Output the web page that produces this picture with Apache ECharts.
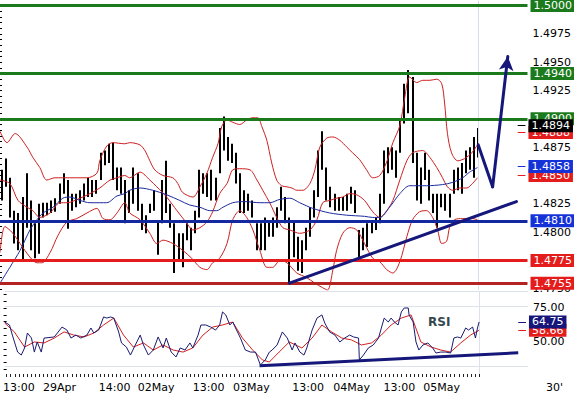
<!DOCTYPE html>
<html><head><meta charset="utf-8">
<script src="https://cdn.jsdelivr.net/npm/echarts@6/dist/echarts.min.js"></script>
<style>html,body{margin:0;padding:0;background:#fff}#c{width:574px;height:397px}</style>
</head><body><div id="c"></div>
<script>
// ---- hourly bars (index = hour) ----
const highs = [1.4855,1.4865,1.4848,1.4819,1.4817,1.4831,1.4852,1.4828,1.4808,1.4825,
1.4826,1.4826,1.4828,1.4830,1.4843,1.4852,1.4846,1.4834,1.4834,1.4837,
1.4843,1.4848,1.4846,1.4846,1.4870,1.4872,1.4878,1.4879,1.4857,1.4857,
1.4846,1.4837,1.4857,1.4852,1.4825,1.4815,1.4825,1.4837,1.4810,1.4846,
1.4863,1.4825,1.4808,1.4799,1.4799,1.4808,1.4804,1.4819,1.4855,1.4852,
1.4852,1.4855,1.4848,1.4892,1.4902,1.4884,1.4878,1.4870,1.4852,1.4837,
1.4834,1.4828,1.4808,1.4808,1.4813,1.4810,1.4813,1.4822,1.4840,1.4831,
1.4813,1.4810,1.4796,1.4793,1.4804,1.4822,1.4837,1.4872,1.4889,1.4857,
1.4840,1.4834,1.4831,1.4831,1.4834,1.4840,1.4837,1.4802,1.4804,1.4808,
1.4810,1.4813,1.4834,1.4872,1.4875,1.4875,1.4872,1.4899,1.4931,1.4943,
1.4937,1.4870,1.4857,1.4870,1.4855,1.4834,1.4834,1.4834,1.4834,1.4834,
1.4855,1.4857,1.4861,1.4872,1.4875,1.4884,1.4892];
const lows = [1.4828,1.4840,1.4813,1.4790,1.4784,1.4775,1.4804,1.4784,1.4777,1.4781,
1.4813,1.4815,1.4817,1.4818,1.4825,1.4834,1.4803,1.4819,1.4822,1.4825,
1.4828,1.4831,1.4831,1.4834,1.4846,1.4859,1.4861,1.4846,1.4837,1.4834,
1.4808,1.4817,1.4825,1.4819,1.4802,1.4799,1.4817,1.4819,1.4780,1.4808,
1.4817,1.4804,1.4764,1.4775,1.4769,1.4793,1.4784,1.4799,1.4813,1.4834,
1.4831,1.4828,1.4828,1.4852,1.4872,1.4863,1.4861,1.4843,1.4817,1.4817,
1.4819,1.4813,1.4784,1.4784,1.4784,1.4796,1.4796,1.4804,1.4819,1.4808,
1.4755,1.4778,1.4766,1.4764,1.4784,1.4796,1.4813,1.4831,1.4855,1.4828,
1.4822,1.4819,1.4819,1.4819,1.4819,1.4825,1.4817,1.4778,1.4784,1.4787,
1.4799,1.4802,1.4808,1.4825,1.4852,1.4855,1.4848,1.4870,1.4896,1.4905,
1.4861,1.4828,1.4825,1.4846,1.4828,1.4817,1.4804,1.4822,1.4819,1.4813,
1.4834,1.4837,1.4834,1.4852,1.4855,1.4848,1.4866];

// ---- Bollinger bands and moving average [hour, price] ----
const upperBand = [[-0.5,1.4889],[1.2,1.4879],[3.2,1.4887],[6.1,1.4875],[7.5,1.4866],[9.2,1.4857],[10.9,1.4846],[12.9,1.4848],[14.8,1.4848],[18.2,1.4848],[20.7,1.4848],[23.1,1.4852],[23.8,1.4863],[25.5,1.4876],[27,1.4879],[29.9,1.4878],[31.1,1.4879],[33.6,1.4877],[34.8,1.4872],[36,1.4863],[37.2,1.4855],[39.2,1.4850],[41.6,1.4848],[42.8,1.4843],[44,1.4835],[46.5,1.4831],[48.2,1.4840],[49.9,1.4852],[51.3,1.4866],[52.6,1.4878],[53.5,1.4893],[54.8,1.4899],[56.2,1.4897],[57.9,1.4895],[59.6,1.4899],[61.1,1.4901],[62.3,1.4901],[63.3,1.4893],[64.5,1.4881],[65.7,1.4861],[66.9,1.4846],[68.1,1.4841],[69.4,1.4840],[70.6,1.4839],[71.8,1.4837],[73.3,1.4837],[75,1.4843],[76.2,1.4855],[77.4,1.4875],[79.1,1.4883],[80.6,1.4884],[82.3,1.4881],[84,1.4875],[85.4,1.4870],[87.1,1.4864],[88.8,1.4855],[90.3,1.4848],[92,1.4850],[93.7,1.4862],[95.2,1.4879],[96.9,1.4894],[98.1,1.4919],[99.3,1.4937],[101,1.4932],[102.5,1.4934],[104.2,1.4934],[105.9,1.4935],[107.1,1.4931],[107.8,1.4914],[108.5,1.4887],[109.5,1.4870],[111,1.4863],[112.7,1.4865],[114.4,1.4870],[115.8,1.4877]];
const middleBand = [[-0.5,1.4846],[1.9,1.4843],[3.9,1.4828],[6.1,1.4822],[7.5,1.4819],[9.2,1.4813],[11.7,1.4817],[14.1,1.4826],[15.8,1.4826],[19,1.4830],[21.4,1.4834],[23.8,1.4839],[26.3,1.4846],[28,1.4848],[29.9,1.4850],[31.1,1.4848],[33.6,1.4853],[36,1.4846],[37.7,1.4840],[40.1,1.4831],[42.6,1.4819],[45,1.4808],[46.5,1.4802],[48.2,1.4804],[49.9,1.4809],[51.3,1.4818],[53,1.4834],[54.8,1.4843],[56.2,1.4855],[57.9,1.4856],[60.4,1.4855],[62.1,1.4846],[63.5,1.4837],[65.2,1.4826],[66.9,1.4813],[68.4,1.4804],[70.1,1.4802],[72.5,1.4799],[75,1.4802],[76.7,1.4811],[78.1,1.4826],[79.8,1.4828],[81.5,1.4830],[83,1.4831],[84.7,1.4834],[86.4,1.4833],[88.3,1.4828],[90.3,1.4818],[92,1.4813],[93.7,1.4819],[95.2,1.4828],[96.9,1.4846],[98.6,1.4863],[100,1.4870],[102.5,1.4872],[104.2,1.4866],[105.9,1.4857],[107.3,1.4848],[108.5,1.4840],[109.8,1.4837],[111.5,1.4839],[113.2,1.4839],[114.6,1.4843],[115.8,1.4848]];
const lowerBand = [[-0.5,1.4782],[0.7,1.4805],[2.4,1.4800],[4.4,1.4790],[6.8,1.4778],[8.5,1.4773],[9.7,1.4773],[11.7,1.4782],[13.6,1.4797],[15.8,1.4809],[18.2,1.4812],[20.7,1.4817],[23.1,1.4821],[24.6,1.4812],[26.3,1.4811],[28,1.4817],[29.9,1.4826],[31.1,1.4817],[33.6,1.4811],[36,1.4799],[37.7,1.4790],[39.2,1.4793],[41.6,1.4790],[44,1.4784],[46.2,1.4777],[48.2,1.4769],[49.9,1.4767],[51.3,1.4773],[53,1.4777],[54.8,1.4790],[56.2,1.4811],[57.9,1.4819],[59.6,1.4813],[61.1,1.4802],[62.8,1.4784],[64.5,1.4769],[65.9,1.4769],[67.7,1.4775],[69.4,1.4773],[71.8,1.4764],[74.2,1.4760],[76.2,1.4755],[78.1,1.4751],[79.3,1.4749],[80.6,1.4767],[81.5,1.4784],[83,1.4799],[84.7,1.4804],[86.4,1.4802],[88.3,1.4790],[90.3,1.4777],[92,1.4774],[93.7,1.4767],[95.2,1.4764],[96.9,1.4774],[98.6,1.4796],[100,1.4811],[101.7,1.4818],[103.4,1.4819],[104.9,1.4813],[106.1,1.4802],[107.1,1.4790],[108.3,1.4792],[109,1.4804],[110.2,1.4811],[112.2,1.4812],[114.6,1.4812],[115.8,1.4811]];
const movingAvg = [[-0.5,1.4755],[1.9,1.4769],[4.4,1.4784],[6.8,1.4802],[8.5,1.4811],[10,1.4817],[12.4,1.4822],[14.8,1.4830],[16.5,1.4831],[19,1.4828],[21.4,1.4826],[23.8,1.4826],[25.5,1.4826],[28,1.4832],[29.9,1.4834],[31.1,1.4837],[33.6,1.4839],[36.7,1.4837],[40.1,1.4833],[43.3,1.4828],[45.7,1.4824],[48.2,1.4822],[50.6,1.4819],[52.3,1.4819],[53.8,1.4822],[56.2,1.4826],[59.1,1.4827],[62.8,1.4826],[65.2,1.4826],[67.7,1.4829],[70.1,1.4830],[72.5,1.4826],[75.7,1.4821],[79.8,1.4817],[84,1.4815],[88.3,1.4814],[90.3,1.4813],[92,1.4813],[94.4,1.4822],[96.9,1.4834],[99.3,1.4841],[103.4,1.4841],[107.3,1.4842],[109.8,1.4844],[112.2,1.4848],[113.9,1.4853],[115.8,1.4857]];

// ---- RSI panel [hour, value] ----
const rsiLine = [[-0.5,64.7],[0.7,62.5],[1.4,55.1],[2.7,42.6],[3.6,40.4],[4.4,45.6],[5.1,56.6],[6.1,52.9],[6.8,42.6],[7.5,50],[8.5,42.6],[9.2,52.9],[11.7,53.7],[13.6,61.0],[14.8,58.8],[15.8,52.9],[17,55.1],[18.2,52.9],[19.7,55.1],[20.7,60.3],[21.4,56.6],[22.6,58.8],[23.8,68.4],[24.6,67.6],[25.5,68.4],[26.3,67.6],[27.5,57.4],[28.2,49.3],[29.4,46.3],[30.4,40.4],[31.6,47.8],[32.8,55.1],[33.6,47.8],[34.8,40.4],[36,44.1],[37.2,53.7],[38.4,45.6],[39.2,52.9],[40.4,42.6],[41.6,39],[42.6,45.6],[43.8,44.1],[45,49.3],[45.7,45.6],[47,55.1],[47.7,62.5],[48.9,62.5],[50.1,61.0],[51.3,58.8],[52.3,62.5],[53,72.1],[53.8,69.9],[54.8,62.5],[55.5,64.7],[56.2,60.3],[57.4,52.9],[58.6,44.1],[59.9,42.6],[61.1,42.6],[62.3,33.1],[63.5,36.8],[64.5,42.6],[65.2,44.1],[66.4,47.8],[67.7,57.4],[68.9,52.9],[69.6,47.8],[70.1,44.1],[70.8,49.3],[72,42.6],[73,40.4],[73.7,45.6],[75,58.8],[76.2,67.6],[77.4,69.9],[78.1,64.0],[79.3,57.4],[80.6,55.1],[81.8,50],[83,52.9],[84.2,55.1],[85.2,53.7],[86.4,52.9],[86.6,36.8],[87.6,40.4],[88.8,45.6],[90,47.8],[91.3,52.9],[92,60.3],[92.7,67.6],[93.7,64.7],[94.4,67.6],[95.2,64.7],[96.1,62.5],[96.9,72.1],[97.6,75],[98.6,75],[98.8,69.9],[99.8,64.7],[100.5,50],[101.2,44.1],[102.2,47.8],[103.4,49.3],[104.6,45.6],[105.4,41.9],[106.6,42.6],[107.8,42.6],[109,41.9],[109.8,52.9],[110.7,53.7],[111.5,52.9],[112.7,60.3],[113.4,58.8],[114.4,61.0],[115.1,52.9],[115.6,60.3],[116,64.75]];
const rsiSignal = [[-0.5,64.0],[1.9,57.4],[4.4,46.3],[6.8,50],[9.2,49.3],[11.7,52.9],[14.1,57.4],[16.5,55.1],[19,53.7],[21.4,56.6],[23.8,62.5],[26.3,67.6],[28.7,55.1],[31.1,46.3],[33.6,49.3],[36,44.1],[38.4,47.8],[40.9,44.1],[43.3,42.6],[45.7,45.6],[48.2,55.1],[50.6,61.0],[53,62.5],[55.5,64.7],[57.9,52.9],[60.4,44.1],[62.8,36.8],[64.5,35.3],[66.9,42.6],[69.4,50],[72.5,45.6],[75,52.9],[77.4,62.5],[79.8,57.4],[82.3,52.9],[84.7,51.5],[87.1,47.8],[89.6,49.3],[92,55.1],[94.4,62.5],[96.9,67.6],[99.3,69.9],[101.7,50],[104.2,46.3],[106.6,44.1],[109,42.6],[111.5,49.3],[113.9,55.1],[116,58.66]];

// ---- annotations ----
const levelValues = [1.5000, 1.4940, 1.4900, 1.4810, 1.4775, 1.4755];
const levelColors = ['#1b7a1b','#1b7a1b','#1b7a1b','#1428a0','#e41c1c','#b42222'];
const levelBoxColors = ['#1b7a1b','#1b7a1b','#1b7a1b','#1432d8','#e41c1c','#e41c1c'];
const lastValuesLow = [1.4888, 1.4850];   // band values (red boxes)
const lastValuesHigh = [1.4894, 1.4858];  // price and average
const trendLine = [[70, 1.4755], [125.3, 1.4827]];
const forecastPath = [[116, 1.4877], [119.5, 1.4840], [123.2, 1.4955]];
const rsiTrend = [[62.1, 32.5], [125.6, 42.1]];
const rsiLast = [64.75, 58.66];
const lastBarHour = 116;
const timeTickPos = [3, 13, 26.5, 36.7, 49.6, 60.1, 74, 84.7, 96.4, 106.8];
const timeTickLabels = ['13:00','29Apr','14:00','02May','13:00','03May','13:00','04May','13:00','05May'];

const FONT = 'DejaVu Sans';
const NAVY = '#15177a';
const hourTicks = []; for (let i = 0; i <= 116; i++) hourTicks.push(i);
const priceTicks = []; for (let n = 14750; n <= 15000; n += 5) priceTicks.push(n / 10000);
const priceLabels = []; for (let n = 14750; n <= 15000; n += 25) priceLabels.push(n / 10000);
const rsiTicks = []; for (let n = 30; n <= 85; n += 5) rsiTicks.push(n);

function box(text, bg) {
  return {show: true, position: 'end', distance: 3, formatter: text, backgroundColor: bg,
    color: '#fff', fontSize: 11, fontFamily: FONT, padding: [1, 3, 0, 3], lineHeight: 12};
}
const XR = 127.5;
const P = 8;

const chart = echarts.init(document.getElementById('c'), null, {renderer: 'svg'});
chart.setOption({
  animation: false,
  backgroundColor: '#fff',
  textStyle: {fontFamily: FONT},
  title: [
    {text: 'RSI', left: 428, top: 316, padding: 0, textStyle: {fontSize: 12, fontWeight: 'bold', color: '#34474f', fontFamily: FONT}},
    {text: "30'", left: 546, top: 382, padding: 0, textStyle: {fontSize: 11, fontWeight: 'normal', color: '#000', fontFamily: FONT}}
  ],
  grid: [
    {left: 0, top: 0, width: 528, height: 290},
    {left: 0, top: 291, width: 528, height: 83}
  ],
  xAxis: [
    {gridIndex: 0, type: 'value', min: -0.5, max: 128, show: false},
    {gridIndex: 1, type: 'value', min: -0.5, max: 128,
      axisLine: {show: false}, splitLine: {show: false},
      axisTick: {show: true, customValues: hourTicks, length: 3, lineStyle: {color: '#222'}},
      axisLabel: {customValues: timeTickPos, margin: 8, fontSize: 11, color: '#000', fontFamily: FONT,
        formatter: v => timeTickLabels[timeTickPos.indexOf(v)] || ''}}
  ],
  yAxis: [
    {gridIndex: 0, type: 'value', position: 'right', min: 1.4749, max: 1.50044,
      axisLine: {show: false}, splitLine: {show: false},
      axisTick: {show: true, inside: true, length: 3, customValues: priceTicks, lineStyle: {color: '#000'}},
      axisLabel: {customValues: priceLabels, margin: 5, fontSize: 11, color: '#000', fontFamily: FONT,
        formatter: v => v.toFixed(4)}},
    {gridIndex: 1, type: 'value', position: 'right', min: 26.47, max: 87.5,
      axisLine: {show: false}, splitLine: {show: false},
      axisTick: {show: true, inside: true, length: 3, customValues: rsiTicks, lineStyle: {color: '#000'}},
      axisLabel: {customValues: [50, 75], margin: 5, fontSize: 11, color: '#000', fontFamily: FONT,
        formatter: v => v.toFixed(2)}}
  ],
  series: [
    // frames / vertical marker
    {type: 'line', xAxisIndex: 1, yAxisIndex: 1, data: [], silent: true, z: 1,
      markLine: {symbol: 'none', silent: true, precision: P, label: {show: false},
        lineStyle: {color: '#dde2ea', width: 1, type: 'solid'},
        data: [{yAxis: 87.4}, {yAxis: 76.5}, {yAxis: 32.4}, {xAxis: lastBarHour}]}},
    {type: 'line', xAxisIndex: 0, yAxisIndex: 0, data: [], silent: true, z: 1,
      markLine: {symbol: 'none', silent: true, precision: P, label: {show: false},
        lineStyle: {color: '#d6dee8', width: 1, type: 'solid'}, data: [{xAxis: lastBarHour}]}},
    // price bars
    {type: 'custom', xAxisIndex: 0, yAxisIndex: 0, z: 3,
      data: highs.map((h, i) => [i, h, lows[i]]),
      encode: {x: 0, y: [1, 2]},
      renderItem: function (params, api) {
        const t = api.coord([api.value(0), api.value(1)]);
        const b = api.coord([api.value(0), api.value(2)]);
        return {type: 'rect', shape: {x: Math.round(t[0]) - 1, y: t[1], width: 2, height: Math.max(1, b[1] - t[1])},
          style: {fill: '#000'}};
      }},
    // bands and average
    {type: 'line', xAxisIndex: 0, yAxisIndex: 0, data: upperBand, showSymbol: false, smooth: 0.3, z: 4,
      lineStyle: {color: '#cc2020', width: 1}},
    {type: 'line', xAxisIndex: 0, yAxisIndex: 0, data: middleBand, showSymbol: false, smooth: 0.3, z: 4,
      lineStyle: {color: '#cc2020', width: 1}},
    {type: 'line', xAxisIndex: 0, yAxisIndex: 0, data: lowerBand, showSymbol: false, smooth: 0.3, z: 4,
      lineStyle: {color: '#cc2020', width: 1}},
    {type: 'line', xAxisIndex: 0, yAxisIndex: 0, data: movingAvg, showSymbol: false, smooth: 0.3, z: 4,
      lineStyle: {color: '#1c2a9e', width: 1}},
    // levels
    {type: 'line', xAxisIndex: 0, yAxisIndex: 0, data: [], z: 6,
      markLine: {symbol: 'none', silent: true, precision: P,
        data: levelValues.map((v, i) => ({yAxis: v,
          lineStyle: {color: levelColors[i], width: 3, type: 'solid'},
          label: box(v.toFixed(4), levelBoxColors[i])}))}},
    // last value markers (lower layer)
    {type: 'line', xAxisIndex: 0, yAxisIndex: 0, data: [], z: 7,
      markLine: {symbol: 'none', silent: true, precision: P,
        data: lastValuesLow.map(v => [{coord: [125.6, v], lineStyle: {color: '#e41c1c', width: 1, type: 'solid'}, label: box(v.toFixed(4), '#e41c1c')}, {coord: [XR, v]}])}},
    {type: 'line', xAxisIndex: 0, yAxisIndex: 0, data: [], z: 8,
      markLine: {symbol: 'none', silent: true, precision: P,
        data: lastValuesHigh.map((v, i) => [{coord: [125.6, v], lineStyle: {color: i === 0 ? '#000' : '#1432d8', width: 1, type: 'solid'}, label: box(v.toFixed(4), i === 0 ? '#000' : '#1432d8')}, {coord: [XR, v]}])}},
    // trend line and forecast
    {type: 'line', xAxisIndex: 0, yAxisIndex: 0, data: [], z: 9,
      markLine: {symbol: 'none', silent: true, precision: P, label: {show: false},
        lineStyle: {color: NAVY, width: 3, type: 'solid', cap: 'round'},
        data: [
          [{coord: trendLine[0]}, {coord: trendLine[1]}],
          [{coord: forecastPath[0]}, {coord: forecastPath[1]}],
          [{coord: forecastPath[1], symbol: 'none'}, {coord: forecastPath[2], symbol: 'arrow', symbolSize: [11, 14]}]
        ]}},
    // RSI
    {type: 'line', xAxisIndex: 1, yAxisIndex: 1, data: rsiSignal, showSymbol: false, z: 4,
      lineStyle: {color: '#d02020', width: 1}},
    {type: 'line', xAxisIndex: 1, yAxisIndex: 1, data: rsiLine, showSymbol: false, z: 5,
      lineStyle: {color: '#1a1a70', width: 1}},
    {type: 'line', xAxisIndex: 1, yAxisIndex: 1, data: [], z: 9,
      markLine: {symbol: 'none', silent: true, precision: P, label: {show: false},
        lineStyle: {color: NAVY, width: 3, type: 'solid'},
        data: [[{coord: rsiTrend[0]}, {coord: rsiTrend[1]}]]}},
    {type: 'line', xAxisIndex: 1, yAxisIndex: 1, data: [], z: 7,
      markLine: {symbol: 'none', silent: true, precision: P,
        data: [[{coord: [125.6, rsiLast[1]], lineStyle: {color: '#e41c1c', width: 1, type: 'solid'}, label: box(rsiLast[1].toFixed(2), '#e41c1c')}, {coord: [XR, rsiLast[1]]}]]}},
    {type: 'line', xAxisIndex: 1, yAxisIndex: 1, data: [], z: 8,
      markLine: {symbol: 'none', silent: true, precision: P,
        data: [[{coord: [125.6, rsiLast[0]], lineStyle: {color: '#15157a', width: 1, type: 'solid'}, label: box(rsiLast[0].toFixed(2), '#15157a')}, {coord: [XR, rsiLast[0]]}]]}}
  ]
});
</script></body></html>
